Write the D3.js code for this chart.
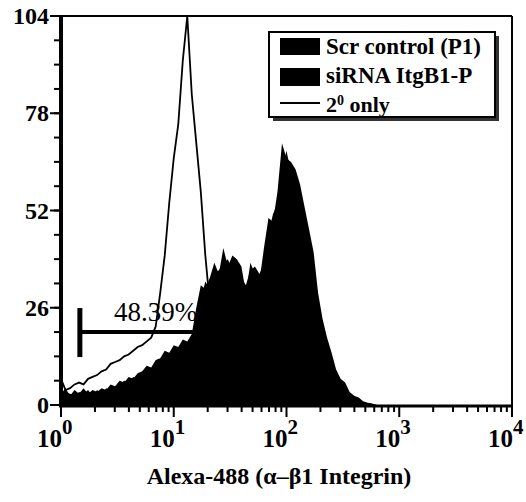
<!DOCTYPE html>
<html>
<head>
<meta charset="utf-8">
<script src="https://cdn.jsdelivr.net/npm/d3@7"></script>
<style>
  body { margin: 0; background: #fff; }
  text { font-family: "Liberation Serif", "Times New Roman", serif; }
</style>
</head>
<body>
<div id="chart"></div>
<script>
// histogram bins, spaced 0.04 decade apart starting at 10^0
let binStep = 0.04;

// Scr control (P1), counts per bin
let scrControl = [3, 4.5, 2.5, 4, 3, 4.5, 3, 4, 3.5, 4.5,
  4, 5.5, 5, 6.5, 6, 7.5, 7, 8.5, 9, 10.5,
  10, 12, 12.5, 14.5, 14, 16, 15.5, 17.5, 17, 19,
  26, 32, 31, 34, 38, 35, 42, 37, 40, 39,
  37, 30, 38, 35, 33, 42, 50, 49, 57, 70,
  66, 65, 63, 59, 53, 47, 41, 30, 23, 18,
  14, 9.5, 7, 6, 3.5, 2.5, 2, 1, 0.6, 0.4, 0];

// siRNA ItgB1-P, counts per bin
let siRNA = [2, 3.5, 3, 2.5, 3.5, 3, 4, 2.5, 4, 3,
  4.5, 4, 5, 5.5, 6.5, 6, 7.5, 7, 8, 9,
  9.5, 11, 11.5, 12, 13.5, 14.5, 15, 16, 16.5, 18,
  22, 28, 33, 31, 35, 36, 38, 39, 36, 37,
  34, 32, 36, 37, 35, 38, 46, 51, 54, 63,
  68, 62, 60, 58, 51, 44, 37, 28, 22, 16,
  12, 9, 6.5, 5, 3, 2, 1.5, 0.8, 0.5, 0.3, 0];

// 2° only, counts per bin
let secondaryOnly = [7, 4, 4.5, 5.5, 6, 5.5, 7, 7.5, 8, 9,
  9.5, 11, 11.5, 12, 13, 13.5, 14.5, 15.5, 16, 17,
  18, 21, 30, 40, 54, 66, 75, 92, 104, 83,
  70, 57, 40, 27, 19, 13, 9, 6, 4, 2.5,
  1.5, 0.5, 0];

let yMajor = [0, 26, 52, 78, 104];
let xDecades = [0, 1, 2, 3, 4];
let legendNames = ["Scr control (P1)", "siRNA ItgB1-P", "2"];

// marker gate
let gateFrom = 1.47, gateTo = 14.8, gateLevel = 19.5, gateLabel = "48.39%";

let width = 526, height = 502;

let svg = d3.select("#chart").append("svg")
  .attr("width", width).attr("height", height);

svg.append("rect").attr("width", width).attr("height", height).attr("fill", "#fff");

let xScale = d3.scaleLog().domain([1, 1e4]).range([61, 512]);
let yScale = d3.scaleLinear().domain([0, 104]).range([405, 16]);

function binValue(i) { return Math.pow(10, i * binStep); }

let area = d3.area()
  .x(function(d, i) { return xScale(binValue(i)); })
  .y0(yScale(0))
  .y1(function(d) { return yScale(d); });

let line = d3.line()
  .x(function(d, i) { return xScale(binValue(i)); })
  .y(function(d) { return yScale(d); });

svg.append("path").datum(scrControl).attr("d", area).attr("fill", "#000");
svg.append("path").datum(siRNA).attr("d", area).attr("fill", "#000");
svg.append("path").datum(secondaryOnly).attr("d", line)
  .attr("fill", "none").attr("stroke", "#000").attr("stroke-width", 1.8);

// frame (top and right)
svg.append("line").attr("x1", xScale(1)).attr("x2", xScale(1e4))
  .attr("y1", yScale(104)).attr("y2", yScale(104))
  .attr("stroke", "#000").attr("stroke-width", 2);
svg.append("line").attr("x1", xScale(1e4)).attr("x2", xScale(1e4))
  .attr("y1", yScale(104)).attr("y2", yScale(0))
  .attr("stroke", "#000").attr("stroke-width", 2);

// y axis
let yAxis = svg.append("g");
yAxis.append("line").attr("x1", 61).attr("x2", 61)
  .attr("y1", yScale(104) - 1).attr("y2", yScale(0) + 2)
  .attr("stroke", "#000").attr("stroke-width", 4);
let yMinor = d3.range(0, 104, 6.5);
yAxis.selectAll(".ymin").data(yMinor).enter().append("line")
  .attr("x1", 54).attr("x2", 61)
  .attr("y1", d => yScale(d)).attr("y2", d => yScale(d))
  .attr("stroke", "#000").attr("stroke-width", 2);
yAxis.selectAll(".ymaj").data(yMajor).enter().append("line")
  .attr("x1", 50).attr("x2", 61)
  .attr("y1", d => yScale(d)).attr("y2", d => yScale(d))
  .attr("stroke", "#000").attr("stroke-width", 2);
yAxis.selectAll(".ylab").data(yMajor).enter().append("text")
  .attr("x", 49).attr("y", d => yScale(d) + 8)
  .attr("text-anchor", "end").attr("font-size", 24).attr("font-weight", "bold")
  .text(d => d);

// x axis
let xAxis = svg.append("g");
xAxis.append("line").attr("x1", 59).attr("x2", 513)
  .attr("y1", 406).attr("y2", 406)
  .attr("stroke", "#000").attr("stroke-width", 3);
let xMinor = [];
for (let e = 0; e < 4; e++) {
  for (let m = 2; m <= 9; m++) xMinor.push(m * Math.pow(10, e));
}
xAxis.selectAll(".xmin").data(xMinor).enter().append("line")
  .attr("x1", d => xScale(d)).attr("x2", d => xScale(d))
  .attr("y1", 406).attr("y2", 412)
  .attr("stroke", "#000").attr("stroke-width", 2);
xAxis.selectAll(".xmaj").data(xDecades).enter().append("line")
  .attr("x1", d => xScale(Math.pow(10, d))).attr("x2", d => xScale(Math.pow(10, d)))
  .attr("y1", 406).attr("y2", 417)
  .attr("stroke", "#000").attr("stroke-width", 2);
// "10" ends at the tick, exponent after it
xAxis.selectAll(".xlab").data(xDecades).enter().append("text")
  .attr("y", 447)
  .attr("font-size", 25).attr("font-weight", "bold")
  .each(function(d) {
    let t = d3.select(this);
    let x0 = xScale(Math.pow(10, d));
    t.append("tspan").attr("x", x0 - 24).text("10");
    t.append("tspan").attr("x", x0 + 1).attr("dy", -13).attr("font-size", 21).text(d);
  });

svg.append("text").attr("x", 279).attr("y", 484)
  .attr("text-anchor", "middle").attr("font-size", 24).attr("font-weight", "bold")
  .text("Alexa-488 (α–β1 Integrin)");

// gate marker
svg.append("line").attr("x1", xScale(gateFrom)).attr("x2", xScale(gateFrom))
  .attr("y1", yScale(gateLevel) - 24).attr("y2", yScale(gateLevel) + 25)
  .attr("stroke", "#000").attr("stroke-width", 5);
svg.append("line").attr("x1", xScale(gateFrom)).attr("x2", xScale(gateTo))
  .attr("y1", yScale(gateLevel)).attr("y2", yScale(gateLevel))
  .attr("stroke", "#000").attr("stroke-width", 4);
svg.append("text").attr("x", 114).attr("y", 321)
  .attr("font-size", 27).text(gateLabel);

// legend
let lg = svg.append("g");
lg.append("rect").attr("x", 273).attr("y", 36).attr("width", 226).attr("height", 85)
  .attr("fill", "#333");
lg.append("rect").attr("x", 269).attr("y", 32).attr("width", 226).attr("height", 85)
  .attr("fill", "#fff").attr("stroke", "#000").attr("stroke-width", 2);
lg.append("rect").attr("x", 280).attr("y", 38).attr("width", 40).attr("height", 17).attr("fill", "#000");
lg.append("rect").attr("x", 280).attr("y", 68).attr("width", 40).attr("height", 18).attr("fill", "#000");
lg.append("line").attr("x1", 280).attr("x2", 320).attr("y1", 103).attr("y2", 103)
  .attr("stroke", "#000").attr("stroke-width", 1.8);
lg.append("text").attr("x", 326).attr("y", 54).attr("font-size", 23).attr("font-weight", "bold")
  .text(legendNames[0]);
lg.append("text").attr("x", 326).attr("y", 83).attr("font-size", 23).attr("font-weight", "bold")
  .text(legendNames[1]);
let l3 = lg.append("text").attr("x", 326).attr("y", 112).attr("font-size", 22).attr("font-weight", "bold");
l3.append("tspan").text(legendNames[2]);
l3.append("tspan").attr("dy", -7).attr("font-size", 14).text("0");
l3.append("tspan").attr("dy", 7).text(" only");
</script>
</body>
</html>
